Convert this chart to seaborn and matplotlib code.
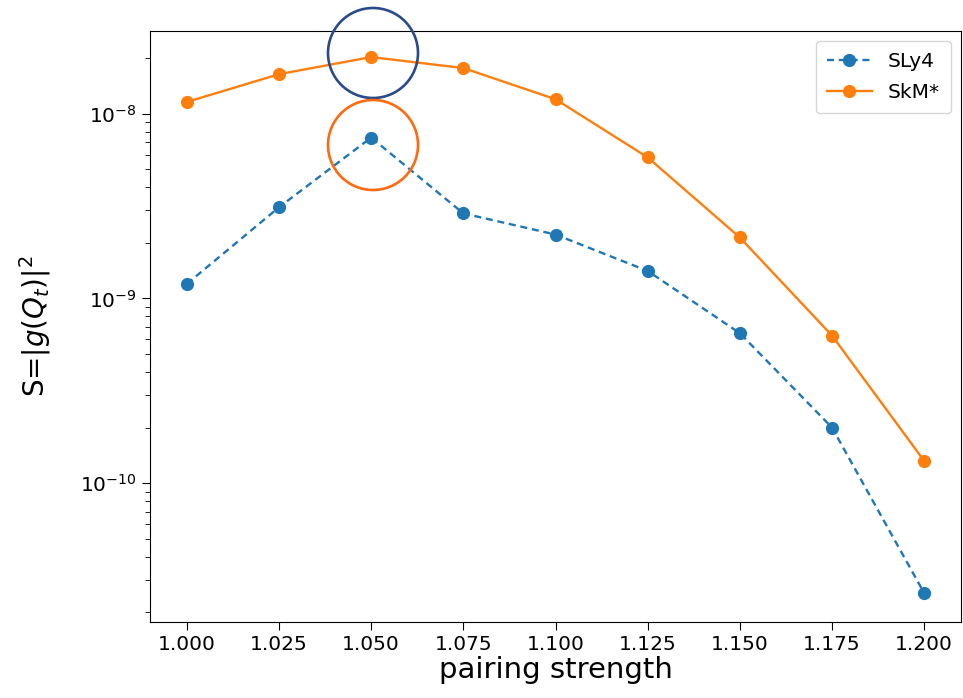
import matplotlib
matplotlib.use('Agg')
import matplotlib.pyplot as plt
from matplotlib.patches import Ellipse
from matplotlib.ticker import NullFormatter, FixedLocator
import seaborn as sns
import pandas as pd

pairing = [1.000, 1.025, 1.050, 1.075, 1.100, 1.125, 1.150, 1.175, 1.200]
sly4 = [1.20e-9, 3.12e-9, 7.44e-9, 2.89e-9, 2.22e-9, 1.41e-9, 6.49e-10, 2.0e-10, 2.54e-11]
skm = [1.16e-8, 1.64e-8, 2.03e-8, 1.77e-8, 1.20e-8, 5.81e-9, 2.14e-9, 6.3e-10, 1.32e-10]
names = ['SLy4', 'SkM*']
y_major = [1e-10, 1e-9, 1e-8]

df = pd.DataFrame({
    'pairing': pairing * 2,
    'S': sly4 + skm,
    'model': [names[0]] * len(pairing) + [names[1]] * len(pairing),
})

fig = plt.figure(figsize=(9.63, 6.98), dpi=100)
ax = fig.add_axes([150 / 963, 1 - 622 / 698, 811 / 963, 591 / 698])

sns.lineplot(data=df, x='pairing', y='S', hue='model', style='model',
             palette=['#1f77b4', '#ff7f0e'],
             dashes={'SLy4': (3, 2), 'SkM*': ''},
             markers={'SLy4': 'o', 'SkM*': 'o'},
             markersize=9.5, markeredgewidth=0, linewidth=1.7, ax=ax)

ax.set_yscale('log')
ax.set_xlim(0.99, 1.21)
ax.set_ylim(1.77e-11, 2.81e-8)
ax.yaxis.set_major_locator(FixedLocator(y_major))
ax.yaxis.set_minor_formatter(NullFormatter())
ax.set_xticks(pairing)
ax.set_xticklabels([f'{p:.3f}' for p in pairing])
ax.tick_params(labelsize=14.5, length=6)
ax.tick_params(which='minor', length=3.5)
ax.set_xlabel('pairing strength', fontsize=21, va='top')
ax.xaxis.set_label_coords(0.5006, -0.058)
ax.set_ylabel(r'S=$|g(Q_t)|^2$', fontsize=20)
ax.yaxis.set_label_coords(-0.12, 0.5)

leg = ax.legend(fontsize=14.5, loc='upper right', title=None,
                labelspacing=0.6, borderpad=0.55, handlelength=2.2)

# highlight circles around the peaks
fig.patches.append(Ellipse((373 / 963, 1 - 53 / 698), 90 / 963, 90 / 698,
                           transform=fig.transFigure, fill=False,
                           edgecolor='#2b4a8c', linewidth=1.9))
fig.patches.append(Ellipse((373 / 963, 1 - 145 / 698), 90 / 963, 90 / 698,
                           transform=fig.transFigure, fill=False,
                           edgecolor='#ff6a10', linewidth=1.9))

fig.savefig('out.png', dpi=100)
